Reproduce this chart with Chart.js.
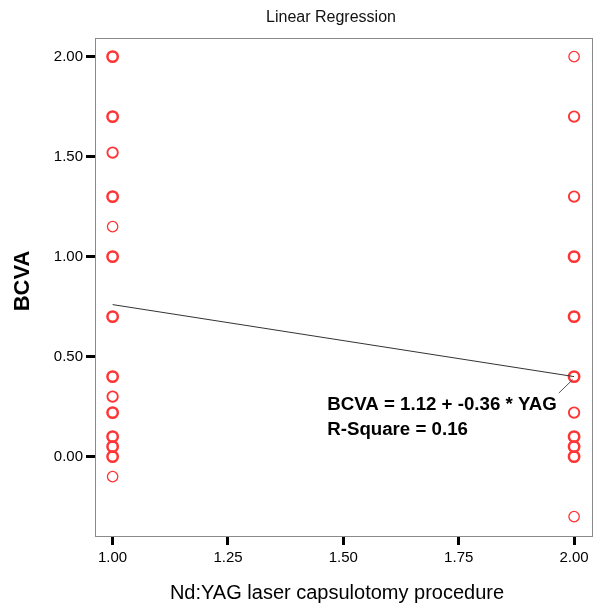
<!DOCTYPE html>
<html>
<head>
<meta charset="utf-8">
<script src="https://cdn.jsdelivr.net/npm/chart.js@4.4.1/dist/chart.umd.min.js"></script>
<style>
html, body { margin: 0; padding: 0; background: #fff; }
</style>
</head>
<body>
<canvas id="myChart" width="595" height="607"></canvas>
<script>
// YAG groups (x) and BCVA values, with how many cases overlap
var yagGroups = [1.00, 2.00];
var bcvaGroup1 = [2.00, 1.70, 1.52, 1.30, 1.15, 1.00, 0.70, 0.40, 0.30, 0.22, 0.10, 0.05, 0.00, -0.10];
var countGroup1 = [3, 3, 2, 3, 1, 3, 3, 3, 2, 3, 3, 3, 3, 1];
var bcvaGroup2 = [2.00, 1.70, 1.30, 1.00, 0.70, 0.40, 0.22, 0.10, 0.05, 0.00, -0.30];
var countGroup2 = [1, 2, 2, 3, 3, 3, 2, 3, 3, 3, 1];
var fitLine = [0.76, 0.40];

var xTicks = [1.00, 1.25, 1.50, 1.75, 2.00];
var yTicks = [0.00, 0.50, 1.00, 1.50, 2.00];
var equationText = ['BCVA = 1.12 + -0.36 * YAG', 'R-Square = 0.16'];

var points = [];
var counts = [];
for (var i = 0; i < bcvaGroup1.length; i++) {
    points.push({x: yagGroups[0], y: bcvaGroup1[i]});
    counts.push(countGroup1[i]);
}
for (var j = 0; j < bcvaGroup2.length; j++) {
    points.push({x: yagGroups[1], y: bcvaGroup2[j]});
    counts.push(countGroup2[j]);
}

var red = 'rgb(255, 52, 52)';
var font = "'Liberation Sans', Arial, sans-serif";

// frame, titles and equation label
var extras = {
    id: 'extras',
    afterDraw: function (chart) {
        var ctx = chart.ctx;
        var a = chart.chartArea;
        var xs = chart.scales.x;
        var ys = chart.scales.y;
        ctx.save();
        ctx.strokeStyle = '#8a8a8a';
        ctx.lineWidth = 1;
        ctx.strokeRect(a.left - 0.5, a.top - 0.5, a.right - a.left, a.bottom - a.top + 1);

        ctx.fillStyle = '#111';
        ctx.font = '16px ' + font;
        ctx.textAlign = 'center';
        ctx.textBaseline = 'middle';
        ctx.fillText('Linear Regression', 331, 18);

        // axis titles
        ctx.fillStyle = '#000';
        ctx.font = '20px ' + font;
        ctx.fillText('Nd:YAG laser capsulotomy procedure', 337, 593);
        ctx.save();
        ctx.translate(23, 281);
        ctx.rotate(-Math.PI / 2);
        ctx.font = 'bold 22px ' + font;
        ctx.fillText('BCVA', 0, 0);
        ctx.restore();

        // leader line from the equation to the fitted point
        ctx.strokeStyle = '#555';
        ctx.beginPath();
        ctx.moveTo(xs.getPixelForValue(1.967), ys.getPixelForValue(0.318));
        ctx.lineTo(xs.getPixelForValue(1.997), ys.getPixelForValue(0.385));
        ctx.stroke();

        ctx.font = 'bold 18.7px ' + font;
        ctx.textAlign = 'left';
        ctx.fillText(equationText[0], xs.getPixelForValue(1.465), ys.getPixelForValue(0.258));
        ctx.fillText(equationText[1], xs.getPixelForValue(1.465), ys.getPixelForValue(0.132));
        ctx.restore();
    }
};

var ctx = document.getElementById('myChart').getContext('2d');
var myChart = new Chart(ctx, {
    type: 'scatter',
    data: {
        datasets: [{
            label: 'Fit',
            type: 'line',
            data: [{x: yagGroups[0], y: fitLine[0]}, {x: yagGroups[1], y: fitLine[1]}],
            borderColor: '#333',
            borderWidth: 1,
            pointRadius: 0,
            fill: false
        }, {
            label: 'BCVA',
            data: points,
            pointRadius: 5.2,
            pointHoverRadius: 5.2,
            backgroundColor: 'rgba(0,0,0,0)',
            borderColor: red,
            borderWidth: function (c) {
                var n = counts[c.dataIndex];
                if (n >= 3) return 2.5;
                if (n == 2) return 1.9;
                return 1.3;
            }
        }]
    },
    options: {
        responsive: false,
        animation: false,
        devicePixelRatio: 1,
        layout: { autoPadding: false, padding: { top: 39, right: 2, left: 0, bottom: 0 } },
        plugins: {
            legend: { display: false },
            title: { display: false },
            tooltip: { enabled: false }
        },
        scales: {
            x: {
                type: 'linear',
                min: 0.964,
                max: 2.041,
                afterBuildTicks: function (s) { s.ticks = xTicks.map(function (v) { return {value: v}; }); },
                afterFit: function (s) {
                    s.height = 71;
                    s.paddingLeft = 0;
                    s.paddingRight = 0;
                },
                ticks: {
                    color: '#000',
                    font: { family: font, size: 15 },
                    padding: 4,
                    maxRotation: 0,
                    callback: function (v) { return v.toFixed(2); }
                },
                grid: { drawOnChartArea: false, tickLength: 9, tickWidth: 3, tickColor: '#000', lineWidth: 3, color: '#000' },
                border: { display: false }
            },
            y: {
                type: 'linear',
                min: -0.397,
                max: 2.088,
                afterBuildTicks: function (s) { s.ticks = yTicks.map(function (v) { return {value: v}; }); },
                afterFit: function (s) {
                    s.width = 96;
                    s.paddingTop = 0;
                    s.paddingBottom = 0;
                },
                ticks: {
                    color: '#000',
                    font: { family: font, size: 15 },
                    padding: 3,
                    callback: function (v) { return v.toFixed(2); }
                },
                grid: { drawOnChartArea: false, tickLength: 10, tickWidth: 3, tickColor: '#000', lineWidth: 3, color: '#000' },
                border: { display: false }
            }
        }
    },
    plugins: [extras]
});
</script>
</body>
</html>
